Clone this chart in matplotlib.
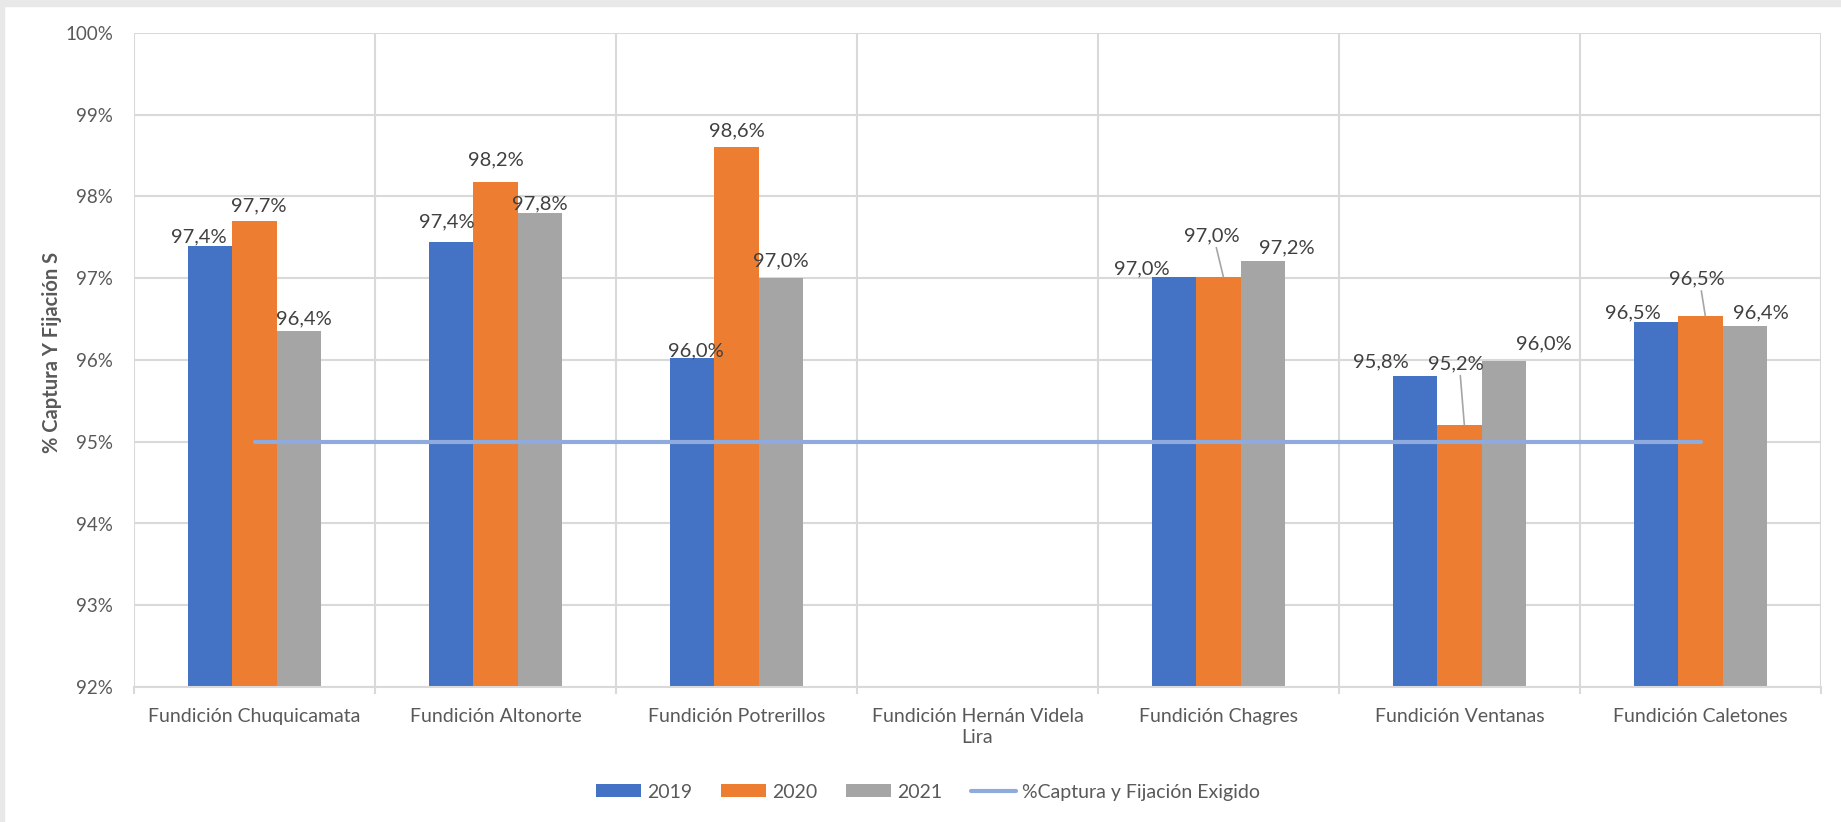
import numpy as np
import matplotlib.pyplot as plt
from matplotlib.patches import Rectangle
from matplotlib.ticker import FuncFormatter, FixedLocator

plt.rcParams['font.family'] = ['Lato', 'DejaVu Sans']

categories = [
    'Fundición Chuquicamata',
    'Fundición Altonorte',
    'Fundición Potrerillos',
    'Fundición Hernán Videla\nLira',
    'Fundición Chagres',
    'Fundición Ventanas',
    'Fundición Caletones',
]
years = ['2019', '2020', '2021']
v2019 = [97.40, 97.44, 96.03, np.nan, 97.02, 95.80, 96.46]
v2020 = [97.70, 98.18, 98.61, np.nan, 97.02, 95.21, 96.54]
v2021 = [96.36, 97.80, 97.00, np.nan, 97.21, 95.99, 96.41]
exigido = [95.0] * len(categories)
exigido_label = '%Captura y Fijación Exigido'

colors = ['#4472C4', '#ED7D31', '#A5A5A5']
line_color = '#8FAADC'
grid_color = '#D9D9D9'
text_color = '#595959'
label_color = '#404040'

# label offsets in pixels (dx, dy of text centre from bar top centre)
default_off = (0, 14)
label_off = {
    (0, 0): (-12, 9), (0, 1): (4, 15), (0, 2): (5, 12),
    (1, 0): (-5, 20), (1, 1): (0, 22), (1, 2): (0, 9),
    (2, 0): (3, 7), (2, 1): (0, 16), (2, 2): (0, 17),
    (4, 0): (-33, 8), (4, 1): (-7, 41), (4, 2): (24, 13),
    (5, 0): (-35, 14), (5, 1): (-4, 61), (5, 2): (40, 17),
    (6, 0): (-24, 10), (6, 1): (-4, 37), (6, 2): (16, 14),
}
leaders = {(4, 1), (5, 1), (6, 1)}

W, H = 1841, 822
fig = plt.figure(figsize=(W / 100, H / 100), dpi=100)
fig.patches.append(Rectangle((0, 1 - 6 / H), 1, 6 / H, transform=fig.transFigure,
                             color='#E8E8E8', zorder=0))
fig.patches.append(Rectangle((0, 0), 4 / W, 1, transform=fig.transFigure,
                             color='#E8E8E8', zorder=0))

ax = fig.add_axes([134 / W, (H - 687) / H, (1821 - 134) / W, (687 - 33) / H])

x = np.arange(len(categories))
bw = 0.1826
series = [v2019, v2020, v2021]
for j, (vals, col, yr) in enumerate(zip(series, colors, years)):
    xs = x + (j - 1) * bw
    ax.bar(xs, vals, width=bw, color=col, label=yr, zorder=2, bottom=0)
    for i, v in enumerate(vals):
        if np.isnan(v):
            continue
        dx, dy = label_off.get((i, j), default_off)
        txt = f'{v:.1f}'.replace('.', ',') + '%'
        ax.annotate(txt, (xs[i], v), xytext=(dx, dy), textcoords='offset pixels',
                    ha='center', va='center', fontsize=14.5, color=label_color, zorder=4)
        if (i, j) in leaders:
            ax.annotate('', (xs[i] + 0.02 * (1 if dx < 0 else -1), v),
                        xytext=(dx, dy - 12), textcoords='offset pixels',
                        arrowprops=dict(arrowstyle='-', color='#A6A6A6', lw=1.2,
                                        shrinkA=0, shrinkB=0), zorder=4)

ax.plot(x, exigido, color=line_color, lw=3, solid_capstyle='round', zorder=3,
        label=exigido_label)

ax.set_ylim(92, 100)
ax.set_xlim(-0.5, len(categories) - 0.5)
ax.set_yticks(np.arange(92, 101, 1))
ax.yaxis.set_major_formatter(FuncFormatter(lambda v, p: f'{v:.0f}%'))
ax.set_xticks(x)
ax.set_xticklabels(categories, linespacing=1.3)
ax.xaxis.set_minor_locator(FixedLocator(np.arange(-0.5, len(categories), 1)))

ax.grid(axis='y', which='major', color=grid_color, lw=1.5, zorder=0)
ax.grid(axis='x', which='minor', color=grid_color, lw=1.5, zorder=0)
ax.grid(axis='x', which='major', visible=False)
ax.set_axisbelow(True)
for s in ['top', 'right', 'left']:
    ax.spines[s].set_visible(False)
ax.spines['bottom'].set_color(grid_color)
ax.spines['bottom'].set_linewidth(1.5)

ax.tick_params(axis='y', length=0, pad=15, labelsize=13.5, labelcolor=text_color)
ax.tick_params(axis='x', which='major', length=0, pad=15, labelsize=14,
               labelcolor=text_color)
ax.tick_params(axis='x', which='minor', length=5, width=1.5, color=grid_color)

fig.text(52 / W, 1 - 352 / H, '% Captura Y Fijación S', rotation=90, ha='center',
         va='center', fontsize=14.5, fontweight='bold', color=text_color)

handles, labels = ax.get_legend_handles_labels()
order = [1, 2, 3, 0]
leg = fig.legend([handles[k] for k in order], [labels[k] for k in order],
                 loc='center', bbox_to_anchor=(928 / W, 1 - 792 / H), ncol=4,
                 frameon=False, fontsize=14, handlelength=2.3, handleheight=0.67,
                 handletextpad=0.3, columnspacing=1.5, labelcolor=text_color)

fig.savefig('out.png', dpi=100, facecolor='white')
